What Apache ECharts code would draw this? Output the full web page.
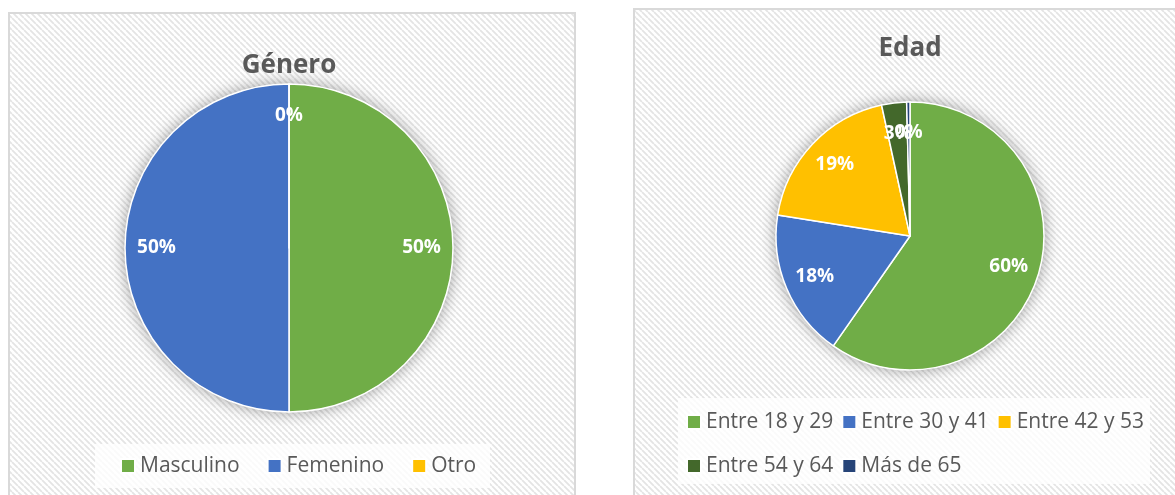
<!DOCTYPE html>
<html><head><meta charset="utf-8">
<script src="https://cdn.jsdelivr.net/npm/echarts@6/dist/echarts.min.js"></script>
<style>html,body{margin:0;padding:0;background:#fff}#c{width:1175px;height:495px}</style>
</head><body><div id="c"></div>
<script>
// ---- data ----
const genderTitle = 'Género';
const genderCategories = ['Masculino', 'Femenino', 'Otro'];
const genderValues = [50, 50, 0];
const ageTitle = 'Edad';
const ageCategories = ['Entre 18 y 29', 'Entre 30 y 41', 'Entre 42 y 53', 'Entre 54 y 64', 'Más de 65'];
const ageValues = [59.7, 17.8, 19.1, 3.0, 0.4];
const genderColors = ['#70AD47', '#4472C4', '#FFC000'];
const ageColors = ['#70AD47', '#4472C4', '#FFC000', '#43682B', '#264478'];

// ---- style ----
const FONT = '"Open Sans", "Noto Sans", sans-serif';
const TXT = '#595959';

function hatchPattern() {
  const s = 6;
  const c = document.createElement('canvas');
  c.width = s; c.height = s;
  const g = c.getContext('2d');
  g.fillStyle = '#ffffff';
  g.fillRect(0, 0, s, s);
  g.strokeStyle = '#e4e4e4';
  g.lineWidth = 1.8;
  g.beginPath();
  for (const k of [-s, 0, s]) { g.moveTo(k, 0); g.lineTo(k + s, s); }
  g.stroke();
  return { image: c, repeat: 'repeat' };
}
const pat = hatchPattern();

function pieSet(names, values, colors, center, R, labelInner) {
  const items = names.map((n, i) => ({ name: n, value: values[i], itemStyle: { color: colors[i] } }));
  return [
    { type: 'pie', center: center, radius: R, silent: true, z: 1, animation: false,
      data: [{ value: 1, name: '' }], label: { show: false }, labelLine: { show: false },
      itemStyle: { color: '#ffffff', shadowBlur: 16, shadowColor: 'rgba(0,0,0,0.4)' } },
    { type: 'pie', center: center, radius: R, z: 2, animation: false, silent: true,
      startAngle: 90, clockwise: true, avoidLabelOverlap: false,
      data: items, label: { show: false }, labelLine: { show: false },
      itemStyle: { borderColor: '#ffffff', borderWidth: 1.5 } },
    { type: 'pie', center: center, radius: [R * labelInner, R], z: 3, animation: false, silent: true,
      startAngle: 90, clockwise: true, avoidLabelOverlap: false, percentPrecision: 0,
      minShowLabelAngle: 0,
      data: names.map((n, i) => ({ name: n, value: values[i] })),
      itemStyle: { color: 'rgba(0,0,0,0)', borderWidth: 0 },
      labelLine: { show: false },
      labelLayout: { hideOverlap: false },
      label: { show: true, position: 'inside', formatter: '{d}%', color: '#ffffff',
        fontFamily: FONT, fontWeight: 'bold', fontSize: 19, overflow: 'none' } }
  ];
}

const legendText = { color: TXT, fontFamily: FONT, fontSize: 21, lineHeight: 22 };
const legendBase = { orient: 'horizontal', icon: 'rect', itemWidth: 14, itemHeight: 14,
  selectedMode: false, padding: 0, textStyle: legendText };

const chart = echarts.init(document.getElementById('c'), null, { renderer: 'canvas' });
chart.setOption({
  animation: false,
  backgroundColor: '#ffffff',
  graphic: [
    { type: 'rect', z: -10, silent: true, shape: { x: 9, y: 13, width: 566, height: 500 },
      style: { fill: pat, stroke: '#d9d9d9', lineWidth: 2 } },
    { type: 'rect', z: -10, silent: true, shape: { x: 634, y: 9, width: 560, height: 500 },
      style: { fill: pat, stroke: '#d9d9d9', lineWidth: 2 } },
    { type: 'rect', z: -9, silent: true, shape: { x: 95, y: 444, width: 395, height: 44 },
      style: { fill: 'rgba(255,255,255,0.8)' } },
    { type: 'rect', z: -9, silent: true, shape: { x: 678, y: 398, width: 472, height: 86 },
      style: { fill: 'rgba(255,255,255,0.8)' } }
  ],
  title: [
    { text: genderTitle, left: 289, top: 53, textAlign: 'center', padding: 0,
      textStyle: { color: TXT, fontFamily: FONT, fontWeight: 'bold', fontSize: 26 } },
    { text: ageTitle, left: 910, top: 36, textAlign: 'center', padding: 0,
      textStyle: { color: TXT, fontFamily: FONT, fontWeight: 'bold', fontSize: 26 } }
  ],
  legend: [
    Object.assign({}, legendBase, { left: 120, top: 455, itemGap: 27, data: genderCategories }),
    Object.assign({}, legendBase, { left: 686, top: 411, itemGap: 8, data: ageCategories.slice(0, 3) }),
    Object.assign({}, legendBase, { left: 686, top: 455, itemGap: 8, data: ageCategories.slice(3) })
  ],
  series: [].concat(
    pieSet(genderCategories, genderValues, genderColors, [289, 248], 164, 0.58),
    pieSet(ageCategories, ageValues, ageColors, [910, 236], 134, 0.5)
  )
});
</script></body></html>
